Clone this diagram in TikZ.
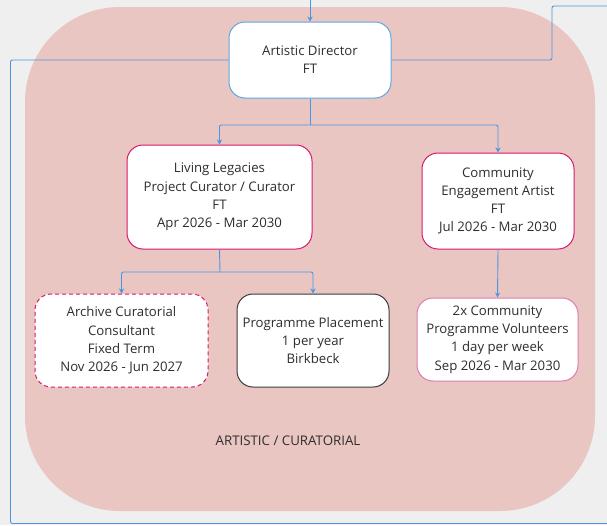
\documentclass[tikz,border=0pt]{standalone}
\usepackage{fontspec}
\setmainfont{Open Sans}
\usetikzlibrary{arrows.meta}
\definecolor{bgc}{HTML}{EFEFEF}
\definecolor{pinkbg}{HTML}{E9C6C2}
\definecolor{lineblue}{HTML}{4A95E0}
\definecolor{adblue}{HTML}{5DA6E6}
\definecolor{magentab}{HTML}{D8186A}
\definecolor{lightmag}{HTML}{E07AB2}
\definecolor{darkb}{HTML}{3A3A3A}
\definecolor{txt}{HTML}{2E2E2E}
\tikzset{
  box/.style={draw, fill=white, rounded corners=16pt, line width=1pt, align=center,
    font=\fontsize{13.2}{18.2}\selectfont, text=txt, inner sep=0pt},
  conn/.style={draw=lineblue, line width=0.9pt, rounded corners=2pt},
  arr/.style={conn, -{Stealth[length=5pt,width=5pt]}},
}
\begin{document}
\begin{tikzpicture}[x=1pt,y=-1pt]
\fill[bgc] (0,0) rectangle (607,525);
\useasboundingbox (0,0) rectangle (607,525);
\fill[pinkbg, rounded corners=95pt] (25,7) rectangle (595,511);

\node[box, draw=adblue, minimum width=162pt, minimum height=76pt] (ad) at (310,60) {Artistic Director\\FT};
\node[box, draw=magentab, minimum width=185pt, minimum height=104pt] (ll) at (219.5,197) {Living Legacies\\Project Curator / Curator\\FT\\Apr 2026 - Mar 2030};
\node[box, draw=magentab, minimum width=152pt, minimum height=96pt] (ce) at (498,201) {Community\\Engagement Artist\\FT\\Jul 2026 - Mar 2030};
\node[box, draw=magentab, dashed, dash pattern=on 4pt off 3pt, minimum width=173pt, minimum height=93pt] (ac) at (121.5,340.5) {Archive Curatorial\\Consultant\\Fixed Term\\Nov 2026 - Jun 2027};
\node[box, draw=darkb, minimum width=152pt, minimum height=93pt] (pp) at (313,340.5) {Programme Placement\\1 per year\\Birkbeck};
\node[box, draw=lightmag, minimum width=161pt, minimum height=83pt] (vo) at (497.5,339.5) {2x Community\\Programme Volunteers\\1 day per week\\Sep 2026 - Mar 2030};

\node[font=\fontsize{13.3}{14}\selectfont, text=txt] (lab) at (288,441) {ARTISTIC / CURATORIAL};

\coordinate (top) at (310,0);
\coordinate (lend) at (607,523.5);
\coordinate (rend) at (607,6);
\coordinate (j1) at (310,125);
\coordinate (j2) at (220,272);

\draw[arr] (top) -- (ad.north);
\draw[conn] (ad.west) -- (10.5,60) -- (10.5,523.5) -- (lend);
\draw[conn] (ad.east) -- (552,60) -- (552,6) -- (rend);
\draw[conn] (ad.south) -- (j1);
\draw[arr] (j1) -| (ll.north);
\draw[arr] (j1) -| (ce.north);
\draw[conn] (ll.south) -- (j2);
\draw[arr] (j2) -| (ac.north);
\draw[arr] (j2) -| (pp.north);
\draw[arr] (ce.south) -- (vo.north);
\end{tikzpicture}
\end{document}
